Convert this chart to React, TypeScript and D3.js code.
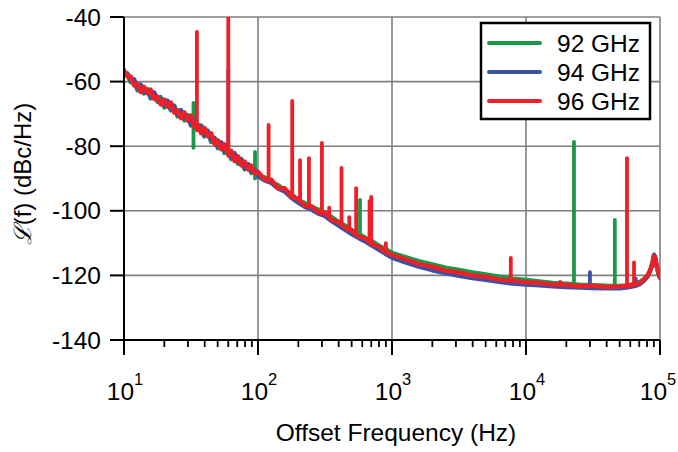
import React from "react";
import * as d3 from "d3";

const FREQS = [
  10, 10.6, 11.2, 11.9, 12.6, 13.3, 14.1, 15.0, 15.8, 16.8, 17.8, 18.8, 20.0, 21.1, 22.4, 23.7, 25.1, 26.6, 28.2, 29.9,
  31.6, 33.5, 35.5, 37.6, 39.8, 42.2, 44.7, 47.3, 50.1, 53.1, 56.2, 59.6, 63.1, 66.8, 70.8, 75.0, 79.4, 84.1, 89.1, 94.4, 100,
  112, 126, 141, 158, 178, 200, 224, 251, 282, 316, 355, 398, 447, 501, 562, 631, 708, 794, 891, 1000,
  1259, 1585, 1995, 2512, 3162, 3981, 5012, 6310, 7943, 10000,
  12589, 15849, 19953, 25119, 31623, 39811, 50119, 56234, 63096, 70795, 75858, 81283, 85114, 88105, 90157, 92257, 94406, 97724, 100000,
];

const G92 = [
  -57.5, -57.7, -60.2, -59.8, -62.7, -61.4, -63.7, -62.3, -65.2, -63.8, -66.3, -64.8, -68.0, -66.4, -68.9, -67.4, -70.8, -69.3, -72.0, -70.4,
  -73.6, -72.1, -75.0, -73.6, -77.0, -75.5, -78.7, -77.4, -80.6, -78.9, -82.1, -80.8, -84.0, -82.4, -85.4, -83.9, -87.1, -85.6, -88.3, -87.0, -89.5,
  -89.6, -91.2, -92.0, -93.6, -94.8, -96.8, -97.6, -98.8, -99.6, -100.7, -101.9, -103.4, -104.6, -106.0, -107.1, -108.3, -109.4, -110.7, -111.8, -113.0,
  -114.3, -115.6, -116.6, -117.6, -118.3, -119.1, -119.7, -120.4, -121.0, -121.4,
  -121.9, -122.3, -122.6, -122.9, -123.0, -123.2, -123.3, -123.1, -122.7, -122.0, -121.2, -119.8, -118.2, -116.4, -114.6, -115.3, -117.4, -119.6, -120.7,
];

const B94 = [
  -57.9, -57.5, -59.7, -59.3, -62.1, -60.9, -63.4, -62.7, -64.9, -63.3, -65.7, -65.4, -67.5, -65.9, -68.6, -67.7, -70.4, -68.8, -71.4, -70.8,
  -73.2, -71.6, -74.4, -73.8, -76.6, -75.2, -78.1, -77.5, -80.2, -78.8, -81.5, -80.7, -83.5, -82.1, -84.9, -84.2, -86.8, -85.5, -87.9, -87.3, -89.3,
  -90.6, -91.4, -93.1, -94.0, -96.0, -97.5, -98.8, -99.6, -100.9, -101.6, -103.2, -104.5, -105.9, -107.2, -108.4, -109.5, -110.8, -112.0, -113.3, -114.5,
  -116.0, -117.3, -118.4, -119.3, -120.1, -120.8, -121.4, -122.0, -122.5, -122.8,
  -123.1, -123.4, -123.6, -123.8, -123.9, -124.0, -124.0, -123.8, -123.4, -122.7, -121.7, -120.2, -118.3, -115.9, -113.6, -114.3, -116.8, -119.4, -120.8,
];

const R96 = [
  -56.4, -58.4, -58.4, -61.2, -60.7, -63.2, -61.6, -63.6, -62.5, -65.4, -64.6, -67.1, -65.6, -67.8, -66.5, -69.6, -68.9, -71.3, -69.5, -72.1,
  -70.5, -74.0, -73.2, -76.0, -74.3, -76.9, -76.0, -79.3, -78.2, -80.9, -79.4, -82.3, -81.4, -84.6, -83.1, -85.9, -84.8, -87.2, -86.0, -88.4, -87.9,
  -90.3, -90.4, -93.0, -93.0, -95.6, -96.4, -98.5, -98.6, -100.5, -100.5, -102.8, -103.4, -105.4, -106.1, -107.9, -108.5, -110.3, -111.0, -112.7, -113.6,
  -115.0, -116.5, -117.3, -118.5, -119.1, -120.0, -120.4, -121.3, -121.6, -122.1,
  -122.3, -122.8, -122.9, -123.3, -123.2, -123.6, -123.4, -123.3, -122.9, -122.3, -121.2, -119.9, -117.9, -116.1, -114.0, -114.9, -117.1, -119.4, -120.6,
];

// spurs: [frequency (Hz), low (dBc/Hz), high (dBc/Hz)]
const G92_SPURS = [
  [33, -80.5, -66.6], [95, -90, -81.8], [577, -108, -96.6], [22800, -123.2, -78.7], [46000, -123.3, -102.8],
];
const B94_SPURS = [
  [60, -82, -56.5], [30000, -123.5, -119], [66000, -123.2, -121],
];
const R96_SPURS = [
  [35, -75, -44.6], [60, -83, -39], [120, -91, -73.4], [180, -95, -66], [206, -97, -84.3], [240, -98.5, -83.7],
  [300, -101, -79], [340, -102, -99], [420, -104, -86.7], [480, -105.5, -102], [540, -106.5, -93], [680, -109, -97],
  [700, -109.5, -95.7], [900, -112, -110], [7700, -121.5, -114.6], [18000, -123, -122], [56700, -123.3, -83.7], [64000, -123, -116],
];

const SERIES = [
  { name: "92 GHz", color: "#1a9a48", values: G92, spurs: G92_SPURS },
  { name: "94 GHz", color: "#3953a4", values: B94, spurs: B94_SPURS },
  { name: "96 GHz", color: "#ee1f26", values: R96, spurs: R96_SPURS },
];

const X_EXP = [1, 2, 3, 4, 5];
const Y_TICKS = [-140, -120, -100, -80, -60, -40];

const W = 678, H = 452;
const L = 124, R = 660, T = 17, B = 340;
const FONT = "'Liberation Sans', Arial, sans-serif";

export default function App() {
  const x = d3.scaleLog().domain([10, 1e5]).range([L, R]);
  const y = d3.scaleLinear().domain([-140, -40]).range([B, T]);
  const line = d3.line<number>().x((_, i) => x(FREQS[i])).y((v) => y(v));

  const minor: number[] = [];
  for (let e = 1; e < 5; e++) for (let m = 2; m <= 9; m++) minor.push(m * Math.pow(10, e));

  return (
    <svg width={W} height={H} style={{ position: "absolute", left: 0, top: 0, background: "#fff" }}>
      <defs>
        <clipPath id="plot">
          <rect x={L} y={T} width={R - L} height={B - T} />
        </clipPath>
      </defs>
      {/* grid */}
      {Y_TICKS.map((t) => (
        <line key={"gy" + t} x1={L} x2={R} y1={y(t)} y2={y(t)} stroke="#7f7f7f" strokeWidth={1.6} />
      ))}
      {X_EXP.map((e) => (
        <line key={"gx" + e} x1={x(Math.pow(10, e))} x2={x(Math.pow(10, e))} y1={T} y2={B} stroke="#7f7f7f" strokeWidth={1.6} />
      ))}
      {/* data */}
      <g clipPath="url(#plot)" fill="none" strokeLinejoin="round" strokeLinecap="round">
        {SERIES.map((s) => (
          <g key={s.name}>
            <path d={line(s.values) || ""} stroke={s.color} strokeWidth={4.4} />
            {s.spurs.map((sp, i) => (
              <line key={i} x1={x(sp[0])} x2={x(sp[0])} y1={y(sp[1])} y2={y(sp[2])} stroke={s.color} strokeWidth={3.8} />
            ))}
          </g>
        ))}
      </g>
      {/* axes */}
      <line x1={L} x2={L} y1={T} y2={B + 15} stroke="#000" strokeWidth={2} />
      <line x1={L - 14} x2={R} y1={B} y2={B} stroke="#000" strokeWidth={2} />
      {Y_TICKS.map((t) => (
        <g key={"ty" + t}>
          <line x1={L - 14} x2={L} y1={y(t)} y2={y(t)} stroke="#000" strokeWidth={2} />
          <text x={L - 23} y={y(t) + 8.5} textAnchor="end" fontFamily={FONT} fontSize={24.5} fill="#000">
            {t}
          </text>
        </g>
      ))}
      {minor.map((f) => (
        <line key={"mx" + f} x1={x(f)} x2={x(f)} y1={B} y2={B + 7} stroke="#000" strokeWidth={1.8} />
      ))}
      {X_EXP.map((e) => (
        <line key={"mj" + e} x1={x(Math.pow(10, e))} x2={x(Math.pow(10, e))} y1={B} y2={B + 15} stroke="#000" strokeWidth={2} />
      ))}
      {X_EXP.map((e) => (
        <text key={"lx" + e} x={x(Math.pow(10, e)) + (e === 5 ? -2 : 1)} y={400} textAnchor="middle" fontFamily={FONT} fontSize={24.5} fill="#000">
          10
          <tspan fontSize={16.5} dy={-15}>{e}</tspan>
        </text>
      ))}
      {/* titles */}
      <text x={(L + R) / 2 + 4} y={441} textAnchor="middle" fontFamily={FONT} fontSize={24.5} fill="#000">
        Offset Frequency (Hz)
      </text>
      <text transform="translate(31,174) rotate(-90)" textAnchor="middle" fontFamily={FONT} fontSize={24} fill="#000">
        <tspan fontFamily="'DejaVu Serif', serif" fontStyle="italic">ℒ</tspan>(f) (dBc/Hz)
      </text>
      {/* legend */}
      <rect x={481} y={23} width={169} height={96} fill="#fff" stroke="#000" strokeWidth={2.5} />
      {SERIES.map((s, i) => (
        <g key={"lg" + s.name}>
          <line x1={489} x2={540} y1={43 + i * 29} y2={43 + i * 29} stroke={s.color} strokeWidth={4} strokeLinecap="round" />
          <text x={557} y={43 + i * 29 + 8.5} fontFamily={FONT} fontSize={24.5} fill="#000">
            {s.name}
          </text>
        </g>
      ))}
    </svg>
  );
}
